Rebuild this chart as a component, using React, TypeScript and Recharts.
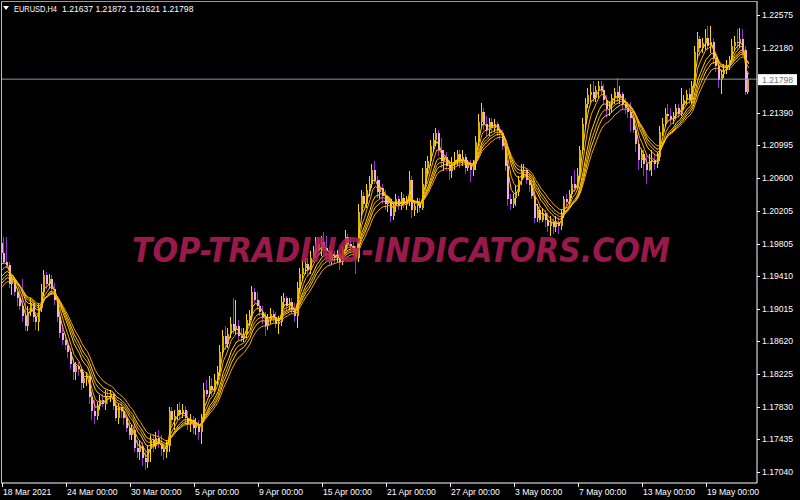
import { ComposedChart, Bar, Line, XAxis, YAxis, ReferenceLine } from 'recharts';

// EURUSD H4, 18 Mar – 20 May 2021, one entry per 4h bar
const opens = [
  1.1981, 1.1969, 1.1958, 1.1954, 1.1931, 1.1937, 1.1922, 1.1915, 1.1905, 1.1893,
  1.1881, 1.1898, 1.1908, 1.1891, 1.1886, 1.1903, 1.1922, 1.1943, 1.1931, 1.1938,
  1.1925, 1.1912, 1.1891, 1.1872, 1.1864, 1.1857, 1.1849, 1.1835, 1.1825, 1.1832,
  1.1828, 1.1811, 1.1818, 1.1820, 1.1794, 1.1777, 1.1772, 1.1784, 1.1791, 1.1786,
  1.1796, 1.1794, 1.1798, 1.1784, 1.1769, 1.1782, 1.1777, 1.1769, 1.1757, 1.1748,
  1.1755, 1.1733, 1.1728, 1.1735, 1.1721, 1.1716, 1.1731, 1.1743, 1.1735, 1.1745,
  1.1738, 1.1731, 1.1728, 1.1735, 1.1777, 1.1767, 1.1772, 1.1779, 1.1774, 1.1779,
  1.1769, 1.1762, 1.1767, 1.1757, 1.1762, 1.1752, 1.1769, 1.1803, 1.1798, 1.1808,
  1.1803, 1.1815, 1.1825, 1.1849, 1.1869, 1.1859, 1.1871, 1.1883, 1.1876, 1.1881,
  1.1869, 1.1866, 1.1871, 1.1888, 1.1893, 1.1922, 1.1912, 1.1905, 1.1898, 1.1891,
  1.1881, 1.1888, 1.1895, 1.1891, 1.1883, 1.1886, 1.1910, 1.1915, 1.1905, 1.1910,
  1.1900, 1.1893, 1.1927, 1.1944, 1.1951, 1.1956, 1.1949, 1.1963, 1.1971, 1.1980,
  1.1973, 1.1983, 1.1975, 1.1971, 1.1961, 1.1966, 1.1963, 1.1968, 1.1958, 1.1973,
  1.1988, 1.1980, 1.1978, 1.1971, 1.1963, 1.2019, 1.2038, 1.2029, 1.2046, 1.2053,
  1.2070, 1.2058, 1.2043, 1.2048, 1.2038, 1.2029, 1.2034, 1.2014, 1.2026, 1.2034,
  1.2026, 1.2036, 1.2029, 1.2031, 1.2058, 1.2021, 1.2026, 1.2031, 1.2024, 1.2053,
  1.2072, 1.2080, 1.2099, 1.2106, 1.2114, 1.2094, 1.2080, 1.2085, 1.2075, 1.2068,
  1.2077, 1.2082, 1.2089, 1.2080, 1.2085, 1.2072, 1.2077, 1.2070, 1.2077, 1.2104,
  1.2128, 1.2140, 1.2126, 1.2118, 1.2128, 1.2121, 1.2126, 1.2118, 1.2114, 1.2099,
  1.2075, 1.2034, 1.2029, 1.2036, 1.2043, 1.2058, 1.2068, 1.2070, 1.2058, 1.2051,
  1.2038, 1.2012, 1.2021, 1.2009, 1.2017, 1.2009, 1.2002, 1.2007, 1.2000, 1.2007,
  1.2002, 1.2017, 1.2034, 1.2031, 1.2041, 1.2053, 1.2048, 1.2063, 1.2094, 1.2126,
  1.2150, 1.2160, 1.2164, 1.2157, 1.2167, 1.2172, 1.2167, 1.2155, 1.2143, 1.2148,
  1.2157, 1.2164, 1.2157, 1.2162, 1.2150, 1.2145, 1.2140, 1.2133, 1.2118, 1.2101,
  1.2082, 1.2089, 1.2077, 1.2070, 1.2080, 1.2082, 1.2077, 1.2085, 1.2116, 1.2126,
  1.2138, 1.2135, 1.2131, 1.2135, 1.2145, 1.2138, 1.2150, 1.2155, 1.2162, 1.2155,
  1.2172, 1.2213, 1.2228, 1.2218, 1.2223, 1.2230, 1.2220, 1.2225, 1.2206, 1.2196,
  1.2179, 1.2186, 1.2191, 1.2196, 1.2203, 1.2220, 1.2225, 1.2223, 1.2228, 1.2215,
  1.21637,
];

const highs = [
  1.1989, 1.1988, 1.1989, 1.1958, 1.1941, 1.1940, 1.1927, 1.1926, 1.1937, 1.1912,
  1.1905, 1.1915, 1.1912, 1.1898, 1.1908, 1.1931, 1.1949, 1.1946, 1.1944, 1.1943,
  1.1933, 1.1916, 1.1895, 1.1878, 1.1871, 1.1864, 1.1854, 1.1842, 1.1837, 1.1837,
  1.1832, 1.1825, 1.1825, 1.1825, 1.1801, 1.1791, 1.1789, 1.1797, 1.1798, 1.1803,
  1.1803, 1.1803, 1.1801, 1.1791, 1.1786, 1.1789, 1.1782, 1.1774, 1.1767, 1.1762,
  1.1762, 1.1743, 1.1743, 1.1740, 1.1728, 1.1735, 1.1748, 1.1750, 1.1752, 1.1755,
  1.1748, 1.1738, 1.1743, 1.1782, 1.1782, 1.1779, 1.1786, 1.1788, 1.1786, 1.1784,
  1.1777, 1.1774, 1.1772, 1.1769, 1.1767, 1.1774, 1.1811, 1.1815, 1.1820, 1.1818,
  1.1823, 1.1832, 1.1857, 1.1876, 1.1881, 1.1878, 1.1891, 1.1915, 1.1912, 1.1888,
  1.1878, 1.1878, 1.1895, 1.1900, 1.1929, 1.1927, 1.1922, 1.1912, 1.1905, 1.1898,
  1.1895, 1.1903, 1.1900, 1.1898, 1.1893, 1.1917, 1.1920, 1.1917, 1.1915, 1.1915,
  1.1908, 1.1934, 1.1951, 1.1961, 1.1963, 1.1963, 1.1971, 1.1978, 1.1988, 1.1988,
  1.1990, 1.1995, 1.1990, 1.1978, 1.1973, 1.1971, 1.1973, 1.1973, 1.1978, 1.1997,
  1.1992, 1.1988, 1.1983, 1.1978, 1.2029, 1.2046, 1.2043, 1.2053, 1.2063, 1.2077,
  1.2080, 1.2063, 1.2058, 1.2053, 1.2046, 1.2038, 1.2036, 1.2031, 1.2041, 1.2038,
  1.2043, 1.2041, 1.2038, 1.2068, 1.2063, 1.2031, 1.2036, 1.2036, 1.2072, 1.2080,
  1.2087, 1.2106, 1.2114, 1.2121, 1.2118, 1.2109, 1.2094, 1.2092, 1.2082, 1.2085,
  1.2092, 1.2094, 1.2094, 1.2094, 1.2089, 1.2082, 1.2082, 1.2082, 1.2111, 1.2138,
  1.2151, 1.2145, 1.2135, 1.2133, 1.2133, 1.2131, 1.2128, 1.2123, 1.2118, 1.2104,
  1.2082, 1.2041, 1.2041, 1.2051, 1.2063, 1.2077, 1.2077, 1.2072, 1.2065, 1.2058,
  1.2043, 1.2029, 1.2026, 1.2024, 1.2021, 1.2017, 1.2014, 1.2012, 1.2014, 1.2012,
  1.2021, 1.2038, 1.2041, 1.2046, 1.2063, 1.2070, 1.2072, 1.2099, 1.2133, 1.2157,
  1.2169, 1.2174, 1.2177, 1.2172, 1.2177, 1.2177, 1.2174, 1.2160, 1.2152, 1.2162,
  1.2169, 1.2181, 1.2172, 1.2164, 1.2157, 1.2152, 1.2152, 1.2140, 1.2123, 1.2106,
  1.2094, 1.2094, 1.2087, 1.2089, 1.2094, 1.2089, 1.2092, 1.2123, 1.2133, 1.2145,
  1.2150, 1.2145, 1.2140, 1.2150, 1.2150, 1.2169, 1.2160, 1.2167, 1.2169, 1.2177,
  1.2220, 1.2237, 1.2232, 1.2230, 1.2240, 1.2244, 1.2244, 1.2230, 1.2213, 1.2203,
  1.2191, 1.2198, 1.2203, 1.2208, 1.2228, 1.2232, 1.2240, 1.2242, 1.2240, 1.2220,
  1.21872,
];

const lows = [
  1.1966, 1.1957, 1.1951, 1.1927, 1.1918, 1.1917, 1.1905, 1.1900, 1.1886, 1.1874,
  1.1875, 1.1893, 1.1886, 1.1876, 1.1874, 1.1898, 1.1917, 1.1925, 1.1925, 1.1920,
  1.1906, 1.1886, 1.1866, 1.1857, 1.1852, 1.1842, 1.1828, 1.1815, 1.1815, 1.1820,
  1.1803, 1.1806, 1.1808, 1.1786, 1.1767, 1.1762, 1.1767, 1.1779, 1.1782, 1.1779,
  1.1786, 1.1789, 1.1779, 1.1765, 1.1762, 1.1769, 1.1760, 1.1752, 1.1743, 1.1743,
  1.1728, 1.1721, 1.1718, 1.1711, 1.1706, 1.1709, 1.1716, 1.1728, 1.1731, 1.1733,
  1.1723, 1.1718, 1.1721, 1.1728, 1.1760, 1.1755, 1.1767, 1.1767, 1.1769, 1.1762,
  1.1755, 1.1752, 1.1750, 1.1748, 1.1743, 1.1738, 1.1765, 1.1794, 1.1794, 1.1796,
  1.1798, 1.1808, 1.1820, 1.1845, 1.1852, 1.1854, 1.1866, 1.1871, 1.1871, 1.1864,
  1.1861, 1.1861, 1.1866, 1.1881, 1.1888, 1.1908, 1.1900, 1.1893, 1.1883, 1.1869,
  1.1876, 1.1883, 1.1886, 1.1878, 1.1871, 1.1881, 1.1903, 1.1900, 1.1900, 1.1895,
  1.1886, 1.1878, 1.1922, 1.1937, 1.1944, 1.1941, 1.1944, 1.1958, 1.1963, 1.1966,
  1.1966, 1.1968, 1.1963, 1.1954, 1.1954, 1.1956, 1.1958, 1.1949, 1.1954, 1.1971,
  1.1975, 1.1971, 1.1966, 1.1944, 1.1958, 1.2014, 1.2024, 1.2024, 1.2038, 1.2048,
  1.2053, 1.2036, 1.2034, 1.2029, 1.2021, 1.2019, 1.2007, 1.2009, 1.2019, 1.2021,
  1.2021, 1.2024, 1.2021, 1.2026, 1.2012, 1.2014, 1.2017, 1.2019, 1.2021, 1.2048,
  1.2065, 1.2075, 1.2092, 1.2099, 1.2087, 1.2072, 1.2068, 1.2068, 1.2058, 1.2060,
  1.2070, 1.2075, 1.2072, 1.2075, 1.2065, 1.2068, 1.2055, 1.2063, 1.2070, 1.2097,
  1.2123, 1.2118, 1.2111, 1.2111, 1.2114, 1.2116, 1.2111, 1.2106, 1.2094, 1.2068,
  1.2026, 1.2021, 1.2024, 1.2026, 1.2038, 1.2051, 1.2060, 1.2053, 1.2043, 1.2034,
  1.2005, 1.2007, 1.2005, 1.2007, 1.2000, 1.1995, 1.1990, 1.1992, 1.1995, 1.1992,
  1.1997, 1.2012, 1.2024, 1.2026, 1.2036, 1.2043, 1.2046, 1.2058, 1.2089, 1.2121,
  1.2145, 1.2152, 1.2152, 1.2152, 1.2157, 1.2160, 1.2150, 1.2133, 1.2135, 1.2140,
  1.2150, 1.2152, 1.2150, 1.2143, 1.2138, 1.2133, 1.2116, 1.2114, 1.2092, 1.2070,
  1.2072, 1.2063, 1.2053, 1.2068, 1.2063, 1.2070, 1.2072, 1.2080, 1.2111, 1.2123,
  1.2128, 1.2126, 1.2126, 1.2131, 1.2133, 1.2135, 1.2143, 1.2150, 1.2150, 1.2150,
  1.2169, 1.2206, 1.2208, 1.2211, 1.2215, 1.2215, 1.2211, 1.2198, 1.2189, 1.2169,
  1.2162, 1.2181, 1.2186, 1.2191, 1.2201, 1.2215, 1.2215, 1.2218, 1.2208, 1.2160,
  1.21621,
];

const closes = [
  1.1969, 1.1958, 1.1954, 1.1931, 1.1937, 1.1922, 1.1915, 1.1905, 1.1893, 1.1881,
  1.1898, 1.1908, 1.1891, 1.1886, 1.1903, 1.1922, 1.1943, 1.1931, 1.1938, 1.1925,
  1.1912, 1.1891, 1.1872, 1.1864, 1.1857, 1.1849, 1.1835, 1.1825, 1.1832, 1.1828,
  1.1811, 1.1818, 1.1820, 1.1794, 1.1777, 1.1772, 1.1784, 1.1791, 1.1786, 1.1796,
  1.1794, 1.1798, 1.1784, 1.1769, 1.1782, 1.1777, 1.1769, 1.1757, 1.1748, 1.1755,
  1.1733, 1.1728, 1.1735, 1.1721, 1.1716, 1.1731, 1.1743, 1.1735, 1.1745, 1.1738,
  1.1731, 1.1728, 1.1735, 1.1777, 1.1767, 1.1772, 1.1779, 1.1774, 1.1779, 1.1769,
  1.1762, 1.1767, 1.1757, 1.1762, 1.1752, 1.1769, 1.1803, 1.1798, 1.1808, 1.1803,
  1.1815, 1.1825, 1.1849, 1.1869, 1.1859, 1.1871, 1.1883, 1.1876, 1.1881, 1.1869,
  1.1866, 1.1871, 1.1888, 1.1893, 1.1922, 1.1912, 1.1905, 1.1898, 1.1891, 1.1881,
  1.1888, 1.1895, 1.1891, 1.1883, 1.1886, 1.1910, 1.1915, 1.1905, 1.1910, 1.1900,
  1.1893, 1.1927, 1.1944, 1.1951, 1.1956, 1.1949, 1.1963, 1.1971, 1.1980, 1.1973,
  1.1983, 1.1975, 1.1971, 1.1961, 1.1966, 1.1963, 1.1968, 1.1958, 1.1973, 1.1988,
  1.1980, 1.1978, 1.1971, 1.1963, 1.2019, 1.2038, 1.2029, 1.2046, 1.2053, 1.2070,
  1.2058, 1.2043, 1.2048, 1.2038, 1.2029, 1.2034, 1.2014, 1.2026, 1.2034, 1.2026,
  1.2036, 1.2029, 1.2031, 1.2058, 1.2021, 1.2026, 1.2031, 1.2024, 1.2053, 1.2072,
  1.2080, 1.2099, 1.2106, 1.2114, 1.2094, 1.2080, 1.2085, 1.2075, 1.2068, 1.2077,
  1.2082, 1.2089, 1.2080, 1.2085, 1.2072, 1.2077, 1.2070, 1.2077, 1.2104, 1.2128,
  1.2140, 1.2126, 1.2118, 1.2128, 1.2121, 1.2126, 1.2118, 1.2114, 1.2099, 1.2075,
  1.2034, 1.2029, 1.2036, 1.2043, 1.2058, 1.2068, 1.2070, 1.2058, 1.2051, 1.2038,
  1.2012, 1.2021, 1.2009, 1.2017, 1.2009, 1.2002, 1.2007, 1.2000, 1.2007, 1.2002,
  1.2017, 1.2034, 1.2031, 1.2041, 1.2053, 1.2048, 1.2063, 1.2094, 1.2126, 1.2150,
  1.2160, 1.2164, 1.2157, 1.2167, 1.2172, 1.2167, 1.2155, 1.2143, 1.2148, 1.2157,
  1.2164, 1.2157, 1.2162, 1.2150, 1.2145, 1.2140, 1.2133, 1.2118, 1.2101, 1.2082,
  1.2089, 1.2077, 1.2070, 1.2080, 1.2082, 1.2077, 1.2085, 1.2116, 1.2126, 1.2138,
  1.2135, 1.2131, 1.2135, 1.2145, 1.2138, 1.2150, 1.2155, 1.2162, 1.2155, 1.2172,
  1.2213, 1.2228, 1.2218, 1.2223, 1.2230, 1.2220, 1.2225, 1.2206, 1.2196, 1.2179,
  1.2186, 1.2191, 1.2196, 1.2203, 1.2220, 1.2225, 1.2223, 1.2228, 1.2215, 1.2164,
  1.21798,
];

const dateTicks = [0, 24, 48, 72, 96, 120, 144, 168, 192, 216, 240, 264];
const dateLabels = [
  '18 Mar 2021', '24 Mar 00:00', '30 Mar 00:00', '5 Apr 00:00', '9 Apr 00:00', '15 Apr 00:00',
  '21 Apr 00:00', '27 Apr 00:00', '3 May 00:00', '7 May 00:00', '13 May 00:00', '19 May 00:00',
];
const priceTicks = [
  1.22575, 1.2218, 1.2139, 1.20995, 1.206, 1.20205, 1.19805, 1.1941, 1.19015, 1.1862,
  1.18225, 1.1783, 1.17435, 1.1704,
];
const lastPrice = 1.21798;
const symbol = 'EURUSD,H4';
const header = '1.21637 1.21872 1.21621 1.21798';

// EMA ribbon (short Guppy set); start values read at the chart's left edge
const maPeriods = [3, 5, 8, 10, 12, 15];
const maStart = [1.1943, 1.1938, 1.1933, 1.1929, 1.1926, 1.1922];
const maColors = ['#FFD700', '#FFA500', '#FFD700', '#FFA500', '#FFD700', '#FFA500'];

const FONT = '"Liberation Sans", Arial, sans-serif';

const rows = closes.map((c, i) => ({
  i,
  o: opens[i],
  h: highs[i],
  l: lows[i],
  c,
  range: [lows[i], highs[i]],
}));
maPeriods.forEach((n, k) => {
  const a = 2 / (n + 1);
  let prev = maStart[k];
  rows.forEach((r: any) => {
    prev = a * r.c + (1 - a) * prev;
    r['ma' + k] = prev;
  });
});

const Candle = (props: any) => {
  const { x, y, width, height, payload } = props;
  if (!payload || x == null) return null;
  const { o, h, l, c } = payload;
  const top = Math.min(y, y + height);
  const span = Math.abs(height);
  const k = h > l ? span / (h - l) : 0;
  const py = (p: number) => top + (h - p) * k;
  const cx = Math.round(x + width / 2) - 1;
  const bull = c >= o;
  const bTop = py(Math.max(o, c));
  const bH = Math.max(1, Math.abs(py(o) - py(c)));
  return (
    <g shapeRendering="crispEdges">
      <line x1={cx + 0.5} x2={cx + 0.5} y1={top} y2={top + span} stroke={bull ? '#FFD700' : '#9932CC'} strokeWidth={1} />
      <rect x={cx} y={bTop} width={2} height={bH} fill={bull ? '#D9B300' : '#F2AAF2'} />
    </g>
  );
};

const DateTick = (props: any) => {
  const { x, payload } = props;
  const idx = dateTicks.indexOf(payload.value);
  return (
    <g>
      <line x1={x + 0.5} x2={x + 0.5} y1={483} y2={487} stroke="#fff" shapeRendering="crispEdges" />
      <text x={x + 1} y={495} fill="#fff" fontSize={8.6} fontFamily={FONT}>
        {dateLabels[idx]}
      </text>
    </g>
  );
};

const PriceTick = (props: any) => {
  const { y, payload } = props;
  return (
    <g>
      <line x1={757} x2={760} y1={y + 0.5} y2={y + 0.5} stroke="#fff" shapeRendering="crispEdges" />
      <text x={762} y={y + 3} fill="#fff" fontSize={8.6} fontFamily={FONT}>
        {payload.value.toFixed(5)}
      </text>
    </g>
  );
};

const PriceTag = (props: any) => {
  const { viewBox } = props;
  if (!viewBox) return null;
  const right = viewBox.x + viewBox.width;
  return (
    <g>
      <rect x={right + 1} y={viewBox.y - 5} width={39} height={11} fill="#fff" />
      <text x={right + 5} y={viewBox.y + 3.5} fill="#707078" fontSize={8.6} fontFamily={FONT}>
        {lastPrice.toFixed(5)}
      </text>
    </g>
  );
};

export default function App() {
  return (
    <div style={{ position: 'fixed', left: 0, top: 0, width: 800, height: 500, background: '#000' }}>
      <ComposedChart width={800} height={500} data={rows} margin={{ top: 1, right: 1, bottom: 1, left: 1 }}>
        <XAxis
          dataKey="i"
          type="number"
          domain={[-0.375, 283.125]}
          ticks={dateTicks}
          interval={0}
          height={16}
          axisLine={{ stroke: '#fff' }}
          tickLine={false}
          tick={<DateTick />}
          allowDataOverflow
        />
        <YAxis
          orientation="right"
          type="number"
          domain={[1.16903, 1.22745]}
          ticks={priceTicks}
          interval={0}
          width={42}
          axisLine={{ stroke: '#fff' }}
          tickLine={false}
          tick={<PriceTick />}
          allowDataOverflow
        />
        <ReferenceLine y={lastPrice} stroke="#8E9AA6" strokeWidth={1} label={<PriceTag />} />
        <Bar dataKey="range" barSize={2} shape={(p: any) => <Candle {...p} />} isAnimationActive={false} />
        {maPeriods.map((n, k) => (
          <Line
            key={n}
            dataKey={'ma' + k}
            type="linear"
            stroke={maColors[k]}
            strokeWidth={1}
            dot={false}
            activeDot={false}
            isAnimationActive={false}
          />
        ))}
      </ComposedChart>
      <svg width={800} height={500} style={{ position: 'absolute', left: 0, top: 0, pointerEvents: 'none' }}>
        <line x1={1.5} x2={1.5} y1={1} y2={483} stroke="#c0c0c0" />
        <line x1={1} x2={757} y1={1.5} y2={1.5} stroke="#9a9a9a" />
        <polygon points="3,6 9,6 6,10" fill="#fff" />
        <text x={14} y={12} fill="#fff" fontSize={8.6} fontFamily={FONT} textLength={43} lengthAdjust="spacingAndGlyphs">
          {symbol}
        </text>
        <text x={62} y={12} fill="#fff" fontSize={8.6} fontFamily={FONT}>{header}</text>
        <text
          x={132}
          y={262}
          fill="#B41E58"
          opacity={0.85}
          fontSize={34}
          fontWeight="bold"
          fontStyle="italic"
          fontFamily='"DejaVu Sans", sans-serif'
          textLength={538}
          lengthAdjust="spacingAndGlyphs"
        >
          TOP-TRADING-INDICATORS.COM
        </text>
      </svg>
    </div>
  );
}
